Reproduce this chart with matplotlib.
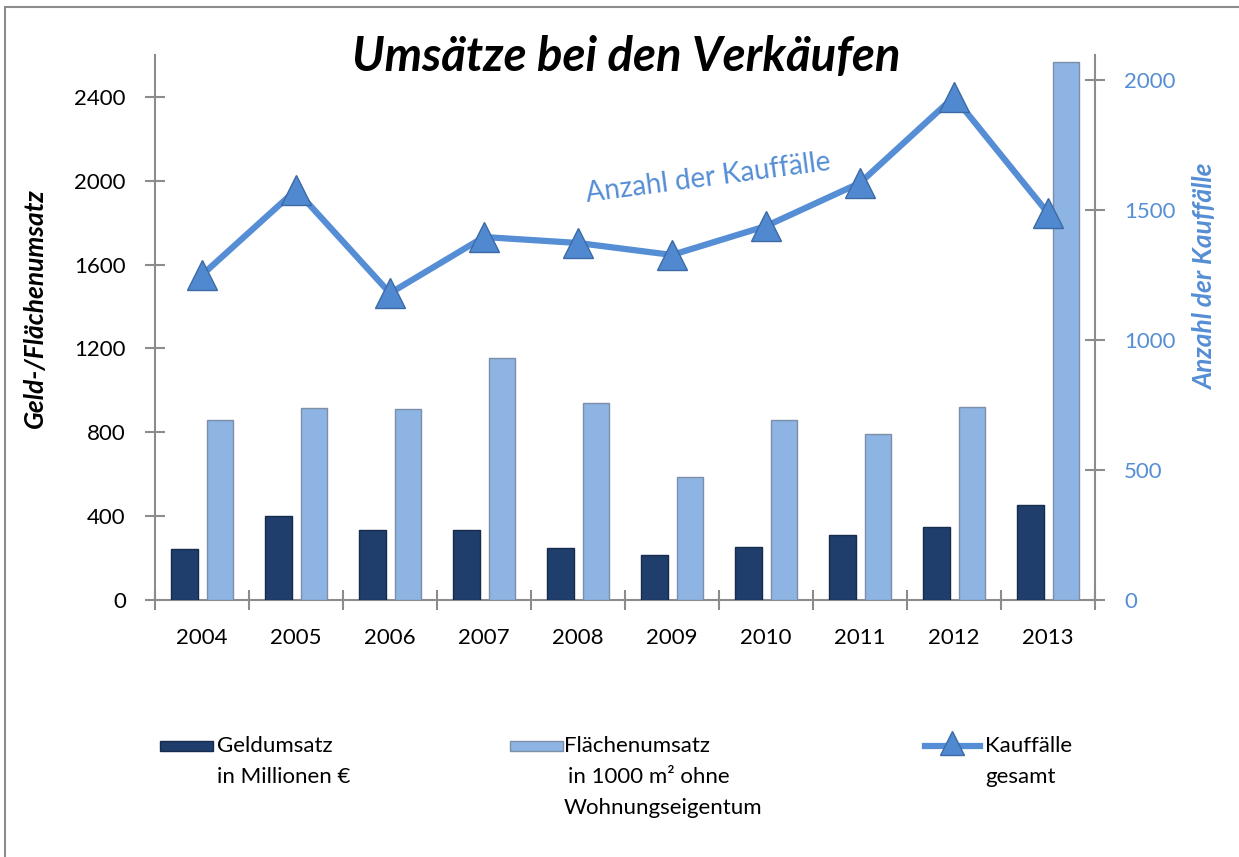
import numpy as np
import matplotlib
matplotlib.use("Agg")
import matplotlib.pyplot as plt
from matplotlib.patches import Rectangle
from matplotlib.lines import Line2D

plt.rcParams['font.family'] = ['Lato', 'DejaVu Sans']

# data
years = ['2004', '2005', '2006', '2007', '2008', '2009', '2010', '2011', '2012', '2013']
geldumsatz = [243, 400, 334, 334, 248, 215, 253, 310, 348, 453]
flaechenumsatz = [859, 916, 911, 1155, 940, 587, 859, 792, 921, 2565]
kauffaelle = [1250, 1577, 1180, 1396, 1373, 1327, 1438, 1604, 1935, 1488]

left_ticks = [0, 400, 800, 1200, 1600, 2000, 2400]
right_ticks = [0, 500, 1000, 1500, 2000]

dark = '#1f3e6b'
light = '#8db4e2'
line_c = '#558ed5'
axis_c = '#8c8c8c'

fig = plt.figure(figsize=(12.39, 8.57), dpi=100)
ax = fig.add_axes([155 / 1239, 1 - 600 / 857, 940 / 1239, 545 / 857])
ax2 = ax.twinx()

x = np.arange(len(years))
w = 0.28
ax.bar(x - 0.185, geldumsatz, w, color=dark, edgecolor='#162c4c', linewidth=1.0, zorder=3)
ax.bar(x + 0.19, flaechenumsatz, w, color=light, edgecolor='#7d8fa8', linewidth=1.0, zorder=3)

ax2.plot(x, kauffaelle, color=line_c, linewidth=4.5, marker='^', markersize=21,
         markerfacecolor='#5089d0', markeredgecolor='#3c6aa5', markeredgewidth=1.0, zorder=4)

ax.set_xlim(-0.5, 9.5)
ax.set_ylim(0, 2600)
ax2.set_ylim(0, 2096)

# axes styling
for a in (ax, ax2):
    a.spines['top'].set_visible(False)
    for s in ('left', 'right', 'bottom'):
        a.spines[s].set_color(axis_c)
        a.spines[s].set_linewidth(1.5)
ax.spines['right'].set_visible(False)
ax2.spines['left'].set_visible(False)
ax2.spines['bottom'].set_visible(False)

ax.set_yticks(left_ticks)
ax.set_yticklabels([str(v) for v in left_ticks], fontsize=16)
ax.tick_params(axis='y', direction='inout', length=14, width=1.5, color=axis_c, pad=14)

ax.set_xticks(np.arange(-0.5, 10, 1))
ax.set_xticklabels([])
ax.set_xticks(x, minor=True)
ax.set_xticklabels(years, minor=True, fontsize=16)
ax.tick_params(axis='x', which='major', direction='inout', length=14, width=1.5, color=axis_c)
ax.tick_params(axis='x', which='minor', length=0, pad=20)

ax2.set_yticks(right_ticks)
ax2.set_yticklabels([str(v) for v in right_ticks], fontsize=16, color=line_c)
ax2.tick_params(axis='y', direction='inout', length=14, width=1.5, color=axis_c, pad=14)

ax.set_ylabel('Geld-/Flächenumsatz', fontsize=19, fontweight='bold', style='italic')
ax.yaxis.set_label_coords(-0.115, 0.536)
ax2.set_ylabel('Anzahl der Kauffälle', fontsize=19, fontweight='bold', style='italic',
               color=line_c)
ax2.yaxis.set_label_coords(1.104, 0.593)

fig.text(626 / 1239, 1 - 57 / 857, 'Umsätze bei den Verkäufen', fontsize=34,
         fontweight='bold', style='italic', ha='center', va='center')
fig.text(708 / 1239, 1 - 178 / 857, 'Anzahl der Kauffälle', fontsize=20, color=line_c,
         rotation=7.5, ha='center', va='center')

# outer frame
fig.patches.append(Rectangle((5 / 1239, -0.1), 1.2, 1 - 7 / 857 + 0.1, transform=fig.transFigure,
                             fill=False, edgecolor='#8c8c8c', linewidth=1.5))

# legend drawn by hand to keep the multi-line label layout
ly = 1 - 746 / 857
lh = 10 / 857
fig.patches.append(Rectangle((160 / 1239, ly - lh / 2), 53 / 1239, lh, transform=fig.transFigure,
                             facecolor=dark, edgecolor='#162c4c'))
fig.patches.append(Rectangle((510 / 1239, ly - lh / 2), 53 / 1239, lh, transform=fig.transFigure,
                             facecolor=light, edgecolor='#7d8fa8'))
fig.lines.append(Line2D([925 / 1239, 980 / 1239], [ly, ly], transform=fig.transFigure,
                        color=line_c, linewidth=4.5))
fig.lines.append(Line2D([952 / 1239], [ly + 3 / 857], transform=fig.transFigure, marker='^',
                        markersize=17, markerfacecolor='#5089d0', markeredgecolor='#3c6aa5'))

fs = 16
fig.text(217 / 1239, ly, 'Geldumsatz', fontsize=fs, va='center')
fig.text(217 / 1239, 1 - 777 / 857, 'in Millionen €', fontsize=fs, va='center')
fig.text(564 / 1239, ly, 'Flächenumsatz', fontsize=fs, va='center')
fig.text(568 / 1239, 1 - 777 / 857, 'in 1000 m² ohne', fontsize=fs, va='center')
fig.text(564 / 1239, 1 - 808 / 857, 'Wohnungseigentum', fontsize=fs, va='center')
fig.text(985 / 1239, ly, 'Kauffälle', fontsize=fs, va='center')
fig.text(985 / 1239, 1 - 777 / 857, 'gesamt', fontsize=fs, va='center')

fig.savefig('out.png', dpi=100)
